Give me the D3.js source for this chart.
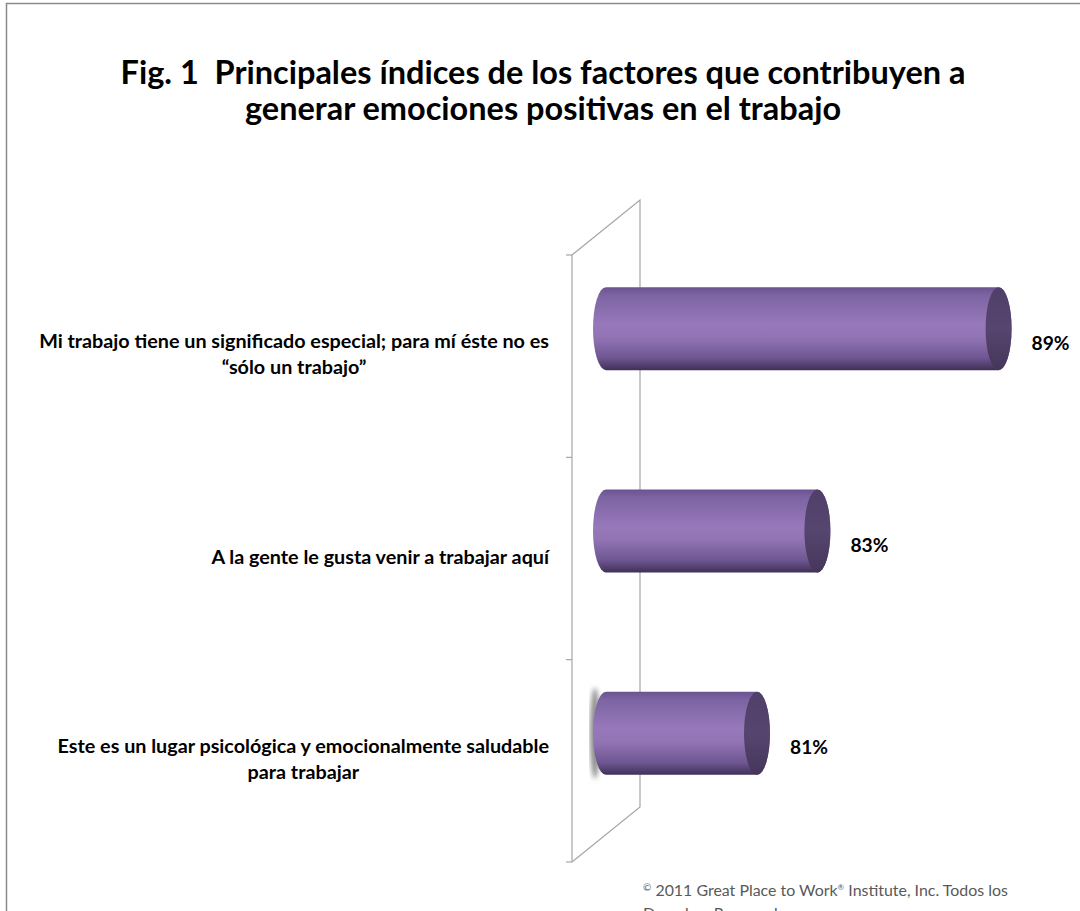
<!DOCTYPE html>
<html>
<head>
<meta charset="utf-8">
<script src="https://cdn.jsdelivr.net/npm/d3@7"></script>
<style>
  body { margin: 0; background: #fff; }
  svg { display: block; }
</style>
</head>
<body>
<svg></svg>
<script>
const titleLines = [
    'Fig. 1\u00a0 Principales índices de los factores que contribuyen a',
    'generar emociones positivas en el trabajo'
];
const categoryLines = [
    ['Mi trabajo tiene un significado especial; para mí éste no es', '“sólo un trabajo”'],
    ['A la gente le gusta venir a trabajar aquí'],
    ['Este es un lugar psicológica y emocionalmente saludable', 'para trabajar']
];
const categories = categoryLines.map(l => l.join(' '));
const values = [89, 83, 81];
const valueLabels = ['89%', '83%', '81%'];
const axisDomain = [76, 90];

const width = 1080;
const height = 911;
const font = 'Lato, "Open Sans", sans-serif';

// depth of the 3d wall, bars sit in the middle of it
const depthX = 68, depthY = -55;
const barDX = depthX / 2, barDY = depthY / 2;

const svg = d3.select('svg')
    .attr('width', width)
    .attr('height', height);

const defs = svg.append('defs');

const grad = defs.append('linearGradient')
    .attr('id', 'cyl')
    .attr('x1', 0).attr('y1', 0).attr('x2', 0).attr('y2', 1);
[[0, '#6b5391'], [0.1, '#7d64a3'], [0.45, '#9779bb'], [0.6, '#9274b5'], [0.85, '#6f5792'], [1, '#3f3057']]
    .forEach(s => grad.append('stop').attr('offset', s[0]).attr('stop-color', s[1]));

const capGrad = defs.append('linearGradient')
    .attr('id', 'cap')
    .attr('x1', 0).attr('y1', 0).attr('x2', 0).attr('y2', 1);
[[0, '#4f3f69'], [0.5, '#56456f'], [1, '#453659']]
    .forEach(s => capGrad.append('stop').attr('offset', s[0]).attr('stop-color', s[1]));

defs.append('filter').attr('id', 'blur')
    .append('feGaussianBlur').attr('stdDeviation', 2.5);

// chart border
svg.append('rect')
    .attr('x', 6.5).attr('y', 3.5)
    .attr('width', 1100).attr('height', 1000)
    .attr('fill', 'none')
    .attr('stroke', '#8a8a8a')
    .attr('stroke-width', 1.5);

const fitSize = (sel, target) => {
    const fs = parseFloat(sel.attr('font-size'));
    return fs * target / sel.node().getComputedTextLength();
};

// title
const title = svg.append('g')
    .attr('font-family', font)
    .attr('font-weight', 'bold')
    .attr('fill', '#000')
    .attr('text-anchor', 'middle');

const tl = title.selectAll('text')
    .data(titleLines)
    .enter()
    .append('text')
    .attr('x', 543)
    .attr('y', (d, i) => 84 + i * 36)
    .attr('font-size', 27)
    .text(d => d);
const titleSize = fitSize(d3.select(tl.nodes()[0]), 845);
tl.attr('font-size', titleSize);

// scales
const x = d3.scaleLinear()
    .domain(axisDomain)
    .range([572, 572 + 14 * 30.2]);

const y = d3.scaleBand()
    .domain(categories)
    .range([255, 862]);

// back wall
const wall = svg.append('g')
    .attr('stroke', '#a6a6a6')
    .attr('stroke-width', 1.2)
    .attr('fill', 'none');

const wallTop = y.range()[0], wallBottom = y.range()[1], wallLeft = x.range()[0];
wall.append('path')
    .attr('d', d3.line()([
        [wallLeft, wallTop], [wallLeft + depthX, wallTop + depthY],
        [wallLeft + depthX, wallBottom + depthY], [wallLeft, wallBottom]
    ]));
wall.append('line')
    .attr('x1', wallLeft).attr('x2', wallLeft)
    .attr('y1', wallTop).attr('y2', wallBottom);

const tickPos = categories.map(c => y(c)).concat([wallBottom]);
wall.selectAll('.tick')
    .data(tickPos)
    .enter()
    .append('line')
    .attr('class', 'tick')
    .attr('x1', wallLeft - 6).attr('x2', wallLeft)
    .attr('y1', d => d).attr('y2', d => d);

// bars as cylinders
const barH = y.bandwidth() * 0.41;
const rx = 13;
const ry = barH / 2;

const bars = categories.map((c, i) => {
    const cy = y(c) + y.bandwidth() / 2 + barDY;
    return {
        x0: x(axisDomain[0]) + barDX,
        x1: x(values[i]) + barDX,
        yTop: cy - ry,
        yBot: cy + ry,
        cy: cy,
        label: valueLabels[i]
    };
});

// soft grey smudge at the base of the last cylinder
const last = bars[bars.length - 1];
svg.append('ellipse')
    .attr('cx', last.x0 - rx + 2)
    .attr('cy', last.cy)
    .attr('rx', 5)
    .attr('ry', ry + 4)
    .attr('fill', '#8c8c8c')
    .attr('filter', 'url(#blur)');

const barG = svg.selectAll('.bar')
    .data(bars)
    .enter()
    .append('g')
    .attr('class', 'bar');

barG.append('path')
    .attr('d', d =>
        'M' + d.x0 + ',' + d.yTop +
        'L' + d.x1 + ',' + d.yTop +
        'A' + rx + ',' + ry + ' 0 0 1 ' + d.x1 + ',' + d.yBot +
        'L' + d.x0 + ',' + d.yBot +
        'A' + rx + ',' + ry + ' 0 0 1 ' + d.x0 + ',' + d.yTop + 'Z')
    .attr('fill', 'url(#cyl)');

barG.append('ellipse')
    .attr('cx', d => d.x1)
    .attr('cy', d => d.cy)
    .attr('rx', rx)
    .attr('ry', ry)
    .attr('fill', 'url(#cap)');

// value labels
const vl = svg.selectAll('.val')
    .data(bars)
    .enter()
    .append('text')
    .attr('class', 'val')
    .attr('font-family', font)
    .attr('font-weight', 'bold')
    .attr('font-size', 17)
    .attr('x', d => d.x1 + rx + 20)
    .attr('y', d => d.cy + 16)
    .attr('dominant-baseline', 'middle')
    .text(d => d.label);
vl.attr('font-size', fitSize(d3.select(vl.nodes()[0]), 38));

// category labels, each wrapped box right aligned to the axis
const lineH = 26;
const catG = svg.selectAll('.cat')
    .data(categories)
    .enter()
    .append('text')
    .attr('class', 'cat')
    .attr('font-family', font)
    .attr('font-weight', 'bold')
    .attr('font-size', 16)
    .attr('text-anchor', 'middle')
    .attr('dominant-baseline', 'middle');

catG.each(function (c, i) {
    const lines = categoryLines[i];
    const mid = y(c) + y.bandwidth() / 2;
    d3.select(this).selectAll('tspan')
        .data(lines)
        .enter()
        .append('tspan')
        .attr('y', (d, j) => mid + (j - (lines.length - 1) / 2) * lineH)
        .text(d => d);
});

const probe = svg.append('text')
    .attr('font-family', font).attr('font-weight', 'bold')
    .attr('font-size', 16).text(categoryLines[0][0]);
const catSize = fitSize(probe, 510);
probe.remove();
catG.attr('font-size', catSize);

catG.each(function () {
    const spans = d3.select(this).selectAll('tspan');
    const w = d3.max(spans.nodes(), n => n.getComputedTextLength());
    spans.attr('x', 549 - w / 2);
});

// footer
const foot = svg.append('text')
    .attr('font-family', font)
    .attr('font-size', 15)
    .attr('fill', '#595959')
    .attr('x', 643)
    .attr('y', 896);
foot.append('tspan').attr('font-size', 10).attr('dy', -5).text('©');
foot.append('tspan').attr('dy', 5).text(' 2011 Great Place to Work');
foot.append('tspan').attr('font-size', 8).attr('dy', -6).text('®');
foot.append('tspan').attr('dy', 6).text(' Institute, Inc. Todos los');
const footSize = fitSize(foot, 366);
foot.attr('font-size', footSize);

svg.append('text')
    .attr('font-family', font)
    .attr('font-size', footSize)
    .attr('fill', '#595959')
    .attr('x', 643)
    .attr('y', 919)
    .text('Derechos Reservados');
</script>
</body>
</html>
